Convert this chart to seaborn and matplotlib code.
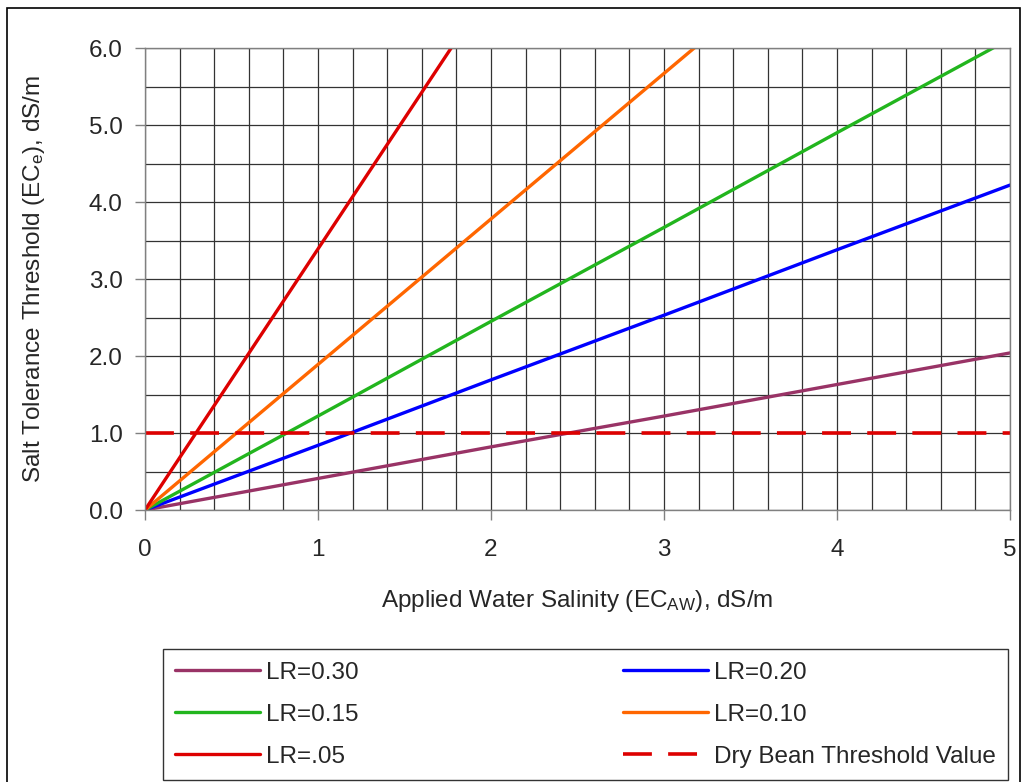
import numpy as np
import pandas as pd
import matplotlib.pyplot as plt
import matplotlib.patches as mpatches
from matplotlib.ticker import MultipleLocator, FormatStrFormatter
import seaborn as sns

# data
ec_aw = [0, 1, 2, 3, 4, 5]
lr_030 = [0, 0.41, 0.82, 1.22, 1.63, 2.04]
lr_020 = [0, 0.84, 1.69, 2.53, 3.38, 4.22]
lr_015 = [0, 1.22, 2.45, 3.67, 4.90, 6.12]
lr_010 = [0, 1.89, 3.78, 5.67, 7.56, 9.45]
lr_005 = [0, 3.39, 6.78, 10.17, 13.56, 16.95]
threshold_x = [0, 5]
threshold_y = [1.0, 1.0]

series = [("LR=0.30", lr_030, "#993366"),
          ("LR=0.20", lr_020, "#0000FF"),
          ("LR=0.15", lr_015, "#22B51E"),
          ("LR=0.10", lr_010, "#FF6600"),
          ("LR=.05", lr_005, "#DD0000")]

sns.set_style("white")
plt.rcParams['font.family'] = ['Liberation Sans', 'DejaVu Sans']
plt.rcParams['mathtext.default'] = 'regular'
fs = 17.5

fig = plt.figure(figsize=(10.23, 7.82), dpi=100)
ax = fig.add_axes([0.1417, 0.3478, 0.8456, 0.5908])

for name, vals, col in series:
    sns.lineplot(x=ec_aw, y=vals, ax=ax, color=col, linewidth=2.4, label=name)
sns.lineplot(x=threshold_x, y=threshold_y, ax=ax, color="#DD0000", linewidth=2.6,
             label="Dry Bean Threshold Value")
ax.lines[-1].set_linestyle((0, (8, 4.5)))

ax.set_xlim(0, 5)
ax.set_ylim(0, 6)
ax.xaxis.set_major_locator(MultipleLocator(1))
ax.xaxis.set_minor_locator(MultipleLocator(0.2))
ax.yaxis.set_major_locator(MultipleLocator(1))
ax.yaxis.set_minor_locator(MultipleLocator(0.5))
ax.yaxis.set_major_formatter(FormatStrFormatter('%.1f'))
ax.grid(True, which='both', color='#333333', linewidth=0.9)
ax.set_axisbelow(True)
ax.tick_params(axis='x', which='major', direction='out', length=7, width=1,
               color='#808080', labelsize=fs, pad=14)
ax.tick_params(axis='x', which='minor', length=0)
ax.tick_params(axis='y', which='both', direction='out', length=7, width=1,
               color='#808080', labelsize=fs, pad=9)
ax.tick_params(left=True, bottom=True)
for s in ax.spines.values():
    s.set_color('#808080')
    s.set_linewidth(1)

ax.set_xlabel("Applied Water Salinity (EC$_{AW}$), dS/m", fontsize=fs, labelpad=19)
ax.set_ylabel("Salt Tolerance Threshold (EC$_{e}$), dS/m", fontsize=fs, labelpad=30)

ax.get_legend().remove()
handles, labels = ax.get_legend_handles_labels()
# rows in the reference: (0.30, 0.20), (0.15, 0.10), (.05, threshold)
order = [0, 2, 4, 1, 3, 5]
leg = fig.legend([handles[i] for i in order], [labels[i] for i in order], ncol=2,
                 loc='lower left', bbox_to_anchor=(0.1593, 0.003, 0.826, 0.166),
                 mode='expand', fontsize=fs, frameon=True, fancybox=False,
                 edgecolor='black', handlelength=3.5, handletextpad=0.25,
                 labelspacing=0.82, borderaxespad=0, borderpad=0.5)
leg.get_frame().set_linewidth(1)

fig.patches.append(mpatches.Rectangle((0.007, -0.01), 0.99, 1.0, transform=fig.transFigure,
                                      fill=False, edgecolor='black', linewidth=1.2))

fig.savefig("out.png", dpi=100)
